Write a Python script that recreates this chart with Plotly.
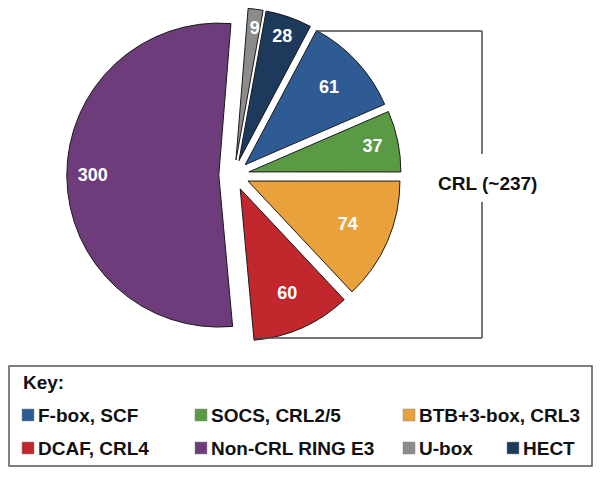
import plotly.graph_objects as go

W, H = 600, 479

# slices clockwise from F-box; same order as the key
labels = ["F-box, SCF", "SOCS, CRL2/5", "BTB+3-box, CRL3", "DCAF, CRL4",
          "Non-CRL RING E3", "U-box", "HECT"]
counts = [61, 37, 74, 60, 300, 9, 28]
colors = ["#2F5B94", "#5B9A45", "#E9A23B", "#C1272D", "#6E3B7B", "#8C8C8C", "#1D3A5C"]
crl_text = "CRL (~237)"
key_title = "Key:"

FONT = "Liberation Sans, Arial, Helvetica, sans-serif"


def px(x):
    return x / W


def py(y):
    return 1 - y / H


# pie box: centre (234, 175), side chosen so r = 152 with pull 0.1
cx, cy, half = 234, 175, 167.2

# nudge two numbers to where the original has them: the big slice's value
# sits near the rim, the thin grey one a little below the rim
nb = "\u00a0"
templates = ["%{value}"] * len(counts)
templates[labels.index("Non-CRL RING E3")] = "%{value}" + nb * 20
templates[labels.index("U-box")] = nb + "<br>%{value}"

fig = go.Figure()
fig.add_trace(go.Pie(
    labels=labels, values=counts, sort=False, direction="clockwise",
    rotation=28, pull=0.1,
    marker=dict(colors=colors, line=dict(color="#1a1a1a", width=1)),
    texttemplate=templates, textposition="inside", insidetextorientation="horizontal",
    insidetextfont=dict(color="white", size=18, family=FONT, weight="bold"),
    domain=dict(x=[px(cx - half), px(cx + half)], y=[py(cy + half), py(cy - half)]),
    showlegend=False, hoverinfo="label+value",
))

line_style = dict(color="#4a4a4a", width=1.5)
shapes = []
# CRL bracket
shapes.append(dict(type="line", xref="paper", yref="paper", x0=px(317), x1=px(482),
                   y0=py(31), y1=py(31), line=line_style))
shapes.append(dict(type="line", xref="paper", yref="paper", x0=px(482), x1=px(482),
                   y0=py(31), y1=py(154), line=line_style))
shapes.append(dict(type="line", xref="paper", yref="paper", x0=px(482), x1=px(482),
                   y0=py(202), y1=py(338), line=line_style))
shapes.append(dict(type="line", xref="paper", yref="paper", x0=px(255), x1=px(482),
                   y0=py(338), y1=py(338), line=line_style))
# key box
shapes.append(dict(type="rect", xref="paper", yref="paper", x0=px(9), x1=px(592),
                   y0=py(466), y1=py(366), line=dict(color="#555555", width=1.5)))

annotations = [
    dict(text=f"<b>{crl_text}</b>", x=px(436), y=py(183), xref="paper", yref="paper",
         xanchor="left", yanchor="middle", showarrow=False,
         font=dict(size=19, color="#111111", family=FONT)),
    dict(text=f"<b>{key_title}</b>", x=px(21), y=py(382), xref="paper", yref="paper",
         xanchor="left", yanchor="middle", showarrow=False,
         font=dict(size=19, color="#111111", family=FONT)),
]

# key layout: (row y, swatch left x) for each entry
key_slots = [(415, 22), (415, 195), (415, 403),
             (448, 22), (448, 195), (448, 403), (448, 507)]
for name, col, (ry, kx) in zip(labels, colors, key_slots):
    shapes.append(dict(type="rect", xref="paper", yref="paper",
                       x0=px(kx), x1=px(kx + 12), y0=py(ry + 6), y1=py(ry - 6),
                       fillcolor=col, line=dict(color="#888888", width=0.5)))
    annotations.append(dict(text=f"<b>{name}</b>", x=px(kx + 14), y=py(ry),
                            xref="paper", yref="paper", xanchor="left", yanchor="middle",
                            showarrow=False,
                            font=dict(size=19, color="#111111", family=FONT)))

fig.update_layout(
    width=W, height=H, margin=dict(l=0, r=0, t=0, b=0),
    paper_bgcolor="white", plot_bgcolor="white",
    font=dict(family=FONT),
    uniformtext=dict(minsize=18, mode="show"),
    shapes=shapes, annotations=annotations,
)

# drop the browser's default body margin so the figure sits at the page corner
fig.write_html("out.html", config={"displayModeBar": False},
               post_script="document.body.style.margin='0';")
